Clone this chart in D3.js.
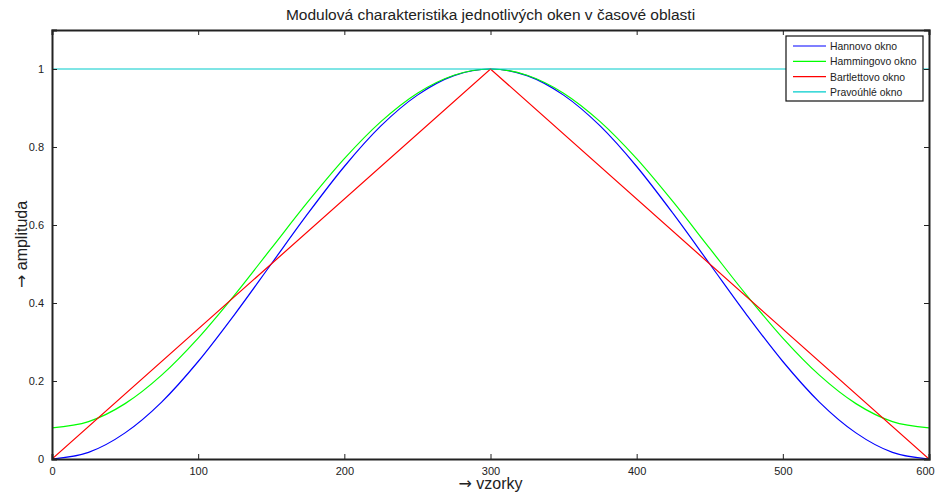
<!DOCTYPE html>
<html lang="cs">
<head>
<meta charset="utf-8">
<script src="https://d3js.org/d3.v7.min.js"></script>
<style>
  body { margin: 0; background: #fff; }
  text { font-family: "Liberation Sans", Arial, sans-serif; fill: #222; }
</style>
</head>
<body>
<script>
// sample positions (every 25 samples)
var samples = [0,25,50,75,100,125,150,175,200,225,250,275,300,325,350,375,400,425,450,475,500,525,550,575,600];
var hann    = [0,0.017,0.067,0.146,0.25,0.371,0.5,0.629,0.75,0.854,0.933,0.983,1,0.983,0.933,0.854,0.75,0.629,0.5,0.371,0.25,0.146,0.067,0.017,0];
var hamming = [0.08,0.096,0.142,0.215,0.31,0.421,0.54,0.659,0.77,0.865,0.938,0.984,1,0.984,0.938,0.865,0.77,0.659,0.54,0.421,0.31,0.215,0.142,0.096,0.08];
var bartlettX = [0,300,600];
var bartlett  = [0,1,0];
var rectX = [0,600];
var rect  = [1,1];

var names  = ["Hannovo okno","Hammingovo okno","Bartlettovo okno","Pravoúhlé okno"];
var colors = ["#0000ff","#00ff00","#ff0000","#00cccc"];
var xTicks = [0,100,200,300,400,500,600];
var yTicks = [0,0.2,0.4,0.6,0.8,1];

var width = 936, height = 495;
var margin = {top: 30, right: 7, bottom: 36, left: 52};

var svg = d3.select("body").append("svg")
    .attr("width", width)
    .attr("height", height);

var x = d3.scaleLinear().domain([0,600]).range([margin.left, width - margin.right]);
var y = d3.scaleLinear().domain([0,1.1]).range([height - margin.bottom, margin.top]);

var series = [
  {xs: samples, ys: hann, c: colors[0], curve: d3.curveMonotoneX},
  {xs: samples, ys: hamming, c: colors[1], curve: d3.curveMonotoneX},
  {xs: bartlettX, ys: bartlett, c: colors[2], curve: d3.curveLinear},
  {xs: rectX, ys: rect, c: colors[3], curve: d3.curveLinear}
];

svg.append("defs").append("clipPath").attr("id", "clip")
  .append("rect")
  .attr("x", margin.left).attr("y", margin.top)
  .attr("width", width - margin.left - margin.right)
  .attr("height", height - margin.top - margin.bottom);

var plot = svg.append("g").attr("clip-path", "url(#clip)");

series.forEach(function(s) {
  var pts = s.xs.map(function(v, i) { return [v, s.ys[i]]; });
  plot.append("path")
    .datum(pts)
    .attr("fill", "none")
    .attr("stroke", s.c)
    .attr("stroke-width", 1.2)
    .attr("d", d3.line()
      .x(function(d) { return x(d[0]); })
      .y(function(d) { return y(d[1]); })
      .curve(s.curve));
});

// axes with inward ticks, MATLAB style
var axBottom = svg.append("g")
    .attr("transform", "translate(0," + (height - margin.bottom) + ")")
    .call(d3.axisBottom(x).tickValues(xTicks).tickSize(-5).tickPadding(8).tickFormat(d3.format("d")));
var axLeft = svg.append("g")
    .attr("transform", "translate(" + margin.left + ",0)")
    .call(d3.axisLeft(y).tickValues(yTicks).tickSize(-5).tickPadding(8).tickFormat(function(d){ return d === 0 || d === 1 ? d : d.toFixed(1); }));
var axTop = svg.append("g")
    .attr("transform", "translate(0," + margin.top + ")")
    .call(d3.axisTop(x).tickValues(xTicks).tickSize(-5).tickFormat(""));
var axRight = svg.append("g")
    .attr("transform", "translate(" + (width - margin.right) + ",0)")
    .call(d3.axisRight(y).tickValues(yTicks).tickSize(-5).tickFormat(""));

[axBottom, axLeft, axTop, axRight].forEach(function(g) {
  g.select(".domain").attr("stroke", "#222").attr("stroke-width", 2);
  g.selectAll(".tick line").attr("stroke", "#222");
  g.selectAll("text").attr("font-size", 11).attr("fill", "#333")
    .attr("font-family", "Liberation Sans, Arial, sans-serif");
});
// keep the last x label inside the window
axBottom.selectAll(".tick text").filter(function(d) { return d === 600; }).attr("dx", -4);

// titles
svg.append("text")
    .attr("x", (margin.left + width - margin.right) / 2)
    .attr("y", 20)
    .attr("text-anchor", "middle")
    .attr("font-size", 15.5)
    .text("Modulová charakteristika jednotlivých oken v časové oblasti");

var xl = svg.append("text")
    .attr("x", (margin.left + width - margin.right) / 2)
    .attr("y", 489)
    .attr("text-anchor", "middle")
    .attr("font-size", 16);
xl.append("tspan").attr("font-family", "DejaVu Sans").text("→");
xl.append("tspan").text(" vzorky");

var yl = svg.append("text")
    .attr("transform", "translate(27," + ((margin.top + height - margin.bottom) / 2) + ") rotate(-90)")
    .attr("text-anchor", "middle")
    .attr("font-size", 16);
yl.append("tspan").attr("font-family", "DejaVu Sans").text("→");
yl.append("tspan").text(" amplituda");

// legend
var lg = svg.append("g").attr("transform", "translate(786,36)");
lg.append("rect")
    .attr("width", 137).attr("height", 65)
    .attr("fill", "#fff").attr("stroke", "#111").attr("stroke-width", 1.2);
names.forEach(function(n, i) {
  var yy = 10 + i * 15.3;
  lg.append("line")
    .attr("x1", 7).attr("x2", 40).attr("y1", yy).attr("y2", yy)
    .attr("stroke", colors[i]).attr("stroke-width", 1.2);
  lg.append("text")
    .attr("x", 44).attr("y", yy + 4)
    .attr("font-size", 10.4)
    .text(n);
});
</script>
</body>
</html>
